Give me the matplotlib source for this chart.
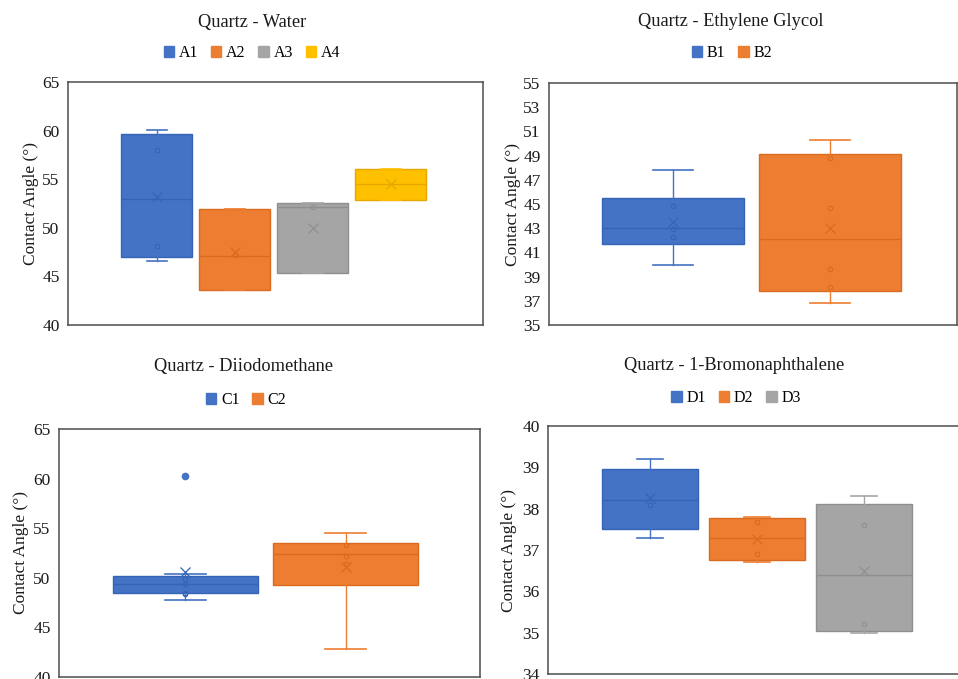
import matplotlib
matplotlib.use("Agg")
import matplotlib.pyplot as plt
from matplotlib.patches import Patch

plt.rcParams['font.family'] = ['Liberation Serif', 'DejaVu Serif']

W, H = 958, 679

# ---- Quartz - Water ----
water_labels = ["A1", "A2", "A3", "A4"]
water_low = [46.6, 43.6, 45.4, 52.9]
water_q1 = [47.0, 43.6, 45.4, 52.9]
water_med = [53.0, 47.1, 52.1, 54.5]
water_q3 = [59.6, 51.9, 52.6, 56.1]
water_high = [60.1, 51.9, 52.6, 56.1]
water_mean = [53.2, 47.5, 50.0, 54.5]
water_points = [[48.1, 58.0], [47.2], [52.1], []]
water_outliers = [[], [], [], []]

# ---- Quartz - Ethylene Glycol ----
glycol_labels = ["B1", "B2"]
glycol_low = [40.0, 36.8]
glycol_q1 = [41.7, 37.8]
glycol_med = [43.0, 42.1]
glycol_q3 = [45.5, 49.1]
glycol_high = [47.8, 50.3]
glycol_mean = [43.5, 43.0]
glycol_points = [[42.3, 42.9, 44.8], [38.1, 39.6, 44.7, 48.8]]
glycol_outliers = [[], []]

# ---- Quartz - Diiodomethane ----
diiodo_labels = ["C1", "C2"]
diiodo_low = [47.8, 42.8]
diiodo_q1 = [48.5, 49.25]
diiodo_med = [49.4, 52.35]
diiodo_q3 = [50.15, 53.55]
diiodo_high = [50.4, 54.5]
diiodo_mean = [50.6, 51.1]
diiodo_points = [[48.4, 48.45, 49.4, 49.85], [51.4, 52.15, 53.3]]
diiodo_outliers = [[60.25], []]

# ---- Quartz - 1-Bromonaphthalene ----
bromo_labels = ["D1", "D2", "D3"]
bromo_low = [37.3, 36.7, 35.0]
bromo_q1 = [37.5, 36.75, 35.05]
bromo_med = [38.2, 37.3, 36.4]
bromo_q3 = [38.95, 37.77, 38.12]
bromo_high = [39.2, 37.8, 38.3]
bromo_mean = [38.25, 37.27, 36.5]
bromo_points = [[38.1], [36.9, 37.67], [35.2, 37.6]]
bromo_outliers = [[], [], []]

fills = ["#4472C4", "#ED7D31", "#A5A5A5", "#FFC000"]
darks = ["#3563B5", "#D96A1E", "#8F8F8F", "#E6A800"]

panels = [
    dict(title="Quartz - Water", labels=water_labels, low=water_low, q1=water_q1,
         med=water_med, q3=water_q3, high=water_high, mean=water_mean,
         points=water_points, outliers=water_outliers,
         box=(68, 483, 82, 325), ylim=(40, 65), step=5,
         xlim=(-1.14, 4.18), width=0.91,
         title_xy=(252, 22), legend_xy=(252, 53), ylabel_x=-0.070),
    dict(title="Quartz - Ethylene Glycol", labels=glycol_labels, low=glycol_low,
         q1=glycol_q1, med=glycol_med, q3=glycol_q3, high=glycol_high,
         mean=glycol_mean, points=glycol_points, outliers=glycol_outliers,
         box=(549, 957, 83, 325), ylim=(35, 55), step=2,
         xlim=(-0.79, 1.81), width=0.905,
         title_xy=(731, 22), legend_xy=(732, 53), ylabel_x=-0.068),
    dict(title="Quartz - Diiodomethane", labels=diiodo_labels, low=diiodo_low,
         q1=diiodo_q1, med=diiodo_med, q3=diiodo_q3, high=diiodo_high,
         mean=diiodo_mean, points=diiodo_points, outliers=diiodo_outliers,
         box=(59, 480, 429, 677), ylim=(40, 65), step=5,
         xlim=(-0.79, 1.84), width=0.906,
         title_xy=(243, 367), legend_xy=(246, 400), ylabel_x=-0.071),
    dict(title="Quartz - 1-Bromonaphthalene", labels=bromo_labels, low=bromo_low,
         q1=bromo_q1, med=bromo_med, q3=bromo_q3, high=bromo_high,
         mean=bromo_mean, points=bromo_points, outliers=bromo_outliers,
         box=(548, 966, 426, 674), ylim=(34, 40), step=1,
         xlim=(-0.953, 2.953), width=0.9,
         title_xy=(734, 365), legend_xy=(736, 398), ylabel_x=-0.074),
]

fig = plt.figure(figsize=(W / 100, H / 100), dpi=100)

for p in panels:
    l, r, t, b = p["box"]
    ax = fig.add_axes([l / W, 1 - b / H, (r - l) / W, (b - t) / H])
    n = len(p["labels"])
    for i in range(n):
        stat = dict(med=p["med"][i], q1=p["q1"][i], q3=p["q3"][i],
                    whislo=p["low"][i], whishi=p["high"][i],
                    mean=p["mean"][i], fliers=p["outliers"][i],
                    label=p["labels"][i])
        fc, dc = fills[i], darks[i]
        ax.bxp([stat], positions=[i], widths=p["width"],
               capwidths=p["width"] * 0.28,
               patch_artist=True, showmeans=True, showfliers=True,
               boxprops=dict(facecolor=fc, edgecolor=dc, linewidth=1.0),
               medianprops=dict(color=dc, linewidth=1.0),
               whiskerprops=dict(color=fc, linewidth=1.0),
               capprops=dict(color=fc, linewidth=1.2),
               meanprops=dict(marker="x", markeredgecolor=dc,
                              markerfacecolor=dc, markersize=7.5,
                              markeredgewidth=0.9),
               flierprops=dict(marker="o", markerfacecolor=fc,
                               markeredgecolor=fc, markersize=4.5))
        pts = p["points"][i]
        if pts:
            ax.plot([i] * len(pts), pts, linestyle="none", marker="o",
                    markersize=3.2, markerfacecolor="none",
                    markeredgecolor=dc, markeredgewidth=0.8)

    lo, hi = p["ylim"]
    ax.set_ylim(lo, hi)
    ax.set_yticks(range(lo, hi + 1, p["step"]))
    ax.set_xlim(*p["xlim"])
    ax.set_xticks([])
    ax.tick_params(axis="y", length=0, pad=6, labelsize=12.5, labelcolor="#1a1a1a")
    for s in ax.spines.values():
        s.set_color("#4d4d4d")
        s.set_linewidth(1.1)
    ax.set_ylabel("Contact Angle (°)", fontsize=12.5, color="#1a1a1a")
    ax.yaxis.set_label_coords(p["ylabel_x"], 0.5)

    tx, ty = p["title_xy"]
    fig.text(tx / W, 1 - ty / H, p["title"], ha="center", va="center",
             fontsize=13.2, color="#1a1a1a")
    handles = [Patch(facecolor=fills[i], edgecolor=fills[i], label=p["labels"][i])
               for i in range(n)]
    lx, ly = p["legend_xy"]
    fig.legend(handles=handles, loc="center", bbox_to_anchor=(lx / W, 1 - ly / H),
               ncol=n, frameon=False, fontsize=11.5, handlelength=0.65,
               handleheight=0.65, handletextpad=0.3, columnspacing=0.8,
               borderpad=0.1)

fig.savefig("out.png", dpi=100)
